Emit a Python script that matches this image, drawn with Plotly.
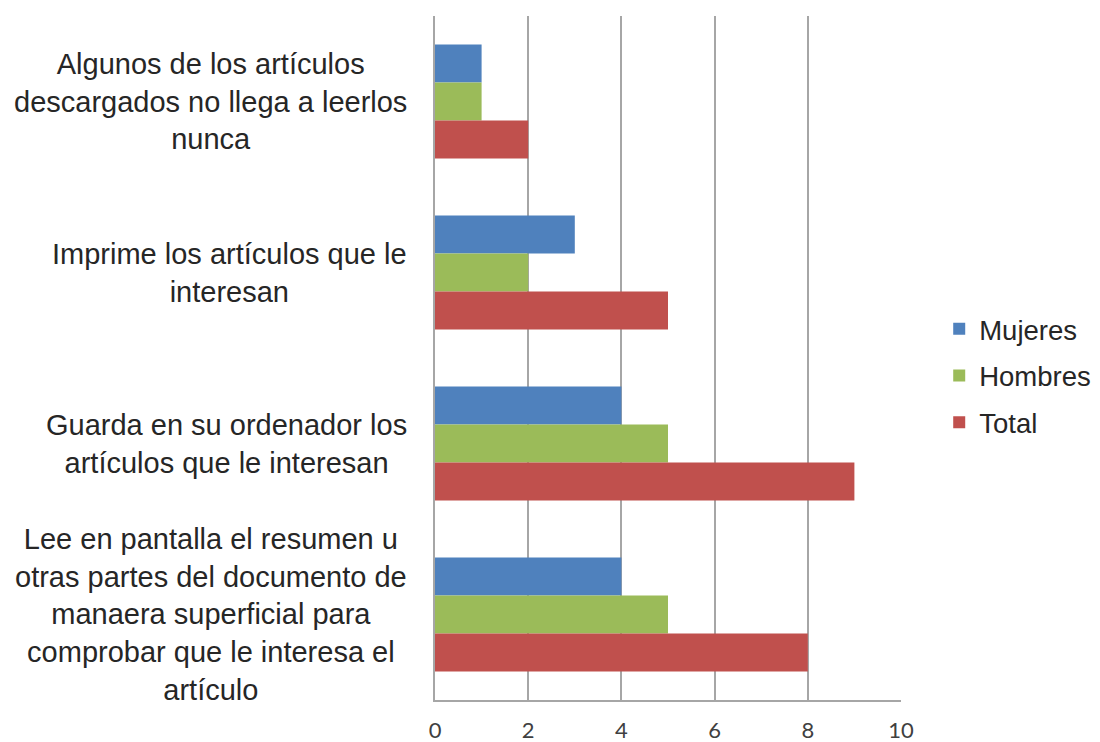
import plotly.graph_objects as go

categories = [
    "Algunos de los artículos<br>descargados no llega a leerlos<br>nunca",
    "Imprime los artículos que le<br>interesan",
    "Guarda en su ordenador los<br>artículos que le interesan",
    "Lee en pantalla el resumen u<br>otras partes del documento de<br>manaera superficial para<br>comprobar que le interesa el<br>artículo",
]
series_names = ["Mujeres", "Hombres", "Total"]
mujeres = [1, 3, 4, 4]
hombres = [1, 2, 5, 5]
total = [2, 5, 9, 8]
colors = ["#4F81BD", "#9BBB59", "#C0504D"]
x_ticks = [0, 2, 4, 6, 8, 10]

fig = go.Figure()
for name, vals, col in zip(series_names, [mujeres, hombres, total], colors):
    fig.add_trace(go.Bar(
        y=list(range(len(categories))), x=vals, name=name, orientation="h",
        marker=dict(color=col, line=dict(width=0)), legendgroup=name,
    ))

for i, c in enumerate(categories):
    fig.add_annotation(
        x=-0.055, xref="paper", y=i, yref="y", text=c, showarrow=False,
        xanchor="right", yanchor="middle", align="center",
        font=dict(family="Liberation Sans, Arial", size=29, color="#262626"),
    )

fig.update_layout(
    width=1092, height=734,
    margin=dict(l=427, r=199, t=8, b=42, autoexpand=False),
    paper_bgcolor="white", plot_bgcolor="white",
    barmode="group", bargap=0.333, bargroupgap=0,
    showlegend=True,
    legend=dict(x=1.082, xanchor="left", y=0.4737, yanchor="middle",
                traceorder="grouped", tracegroupgap=8, itemwidth=30,
                font=dict(family="Liberation Sans, Arial", size=27.5, color="#262626")),
    xaxis=dict(range=[0, 10], tickvals=x_ticks, showgrid=True, gridcolor="#A6A6A6",
               gridwidth=1.5, showline=True, linecolor="#A6A6A6", linewidth=1.5,
               zeroline=False, ticks="", ticklabelstandoff=10,
               tickfont=dict(family="Lato, Open Sans", size=22, color="#404040")),
    yaxis=dict(range=[3.5, -0.5], showticklabels=False, showgrid=False,
               showline=True, linecolor="#A6A6A6", linewidth=1.5, ticks="",
               zeroline=False),
)
fig.write_html("out.html")
